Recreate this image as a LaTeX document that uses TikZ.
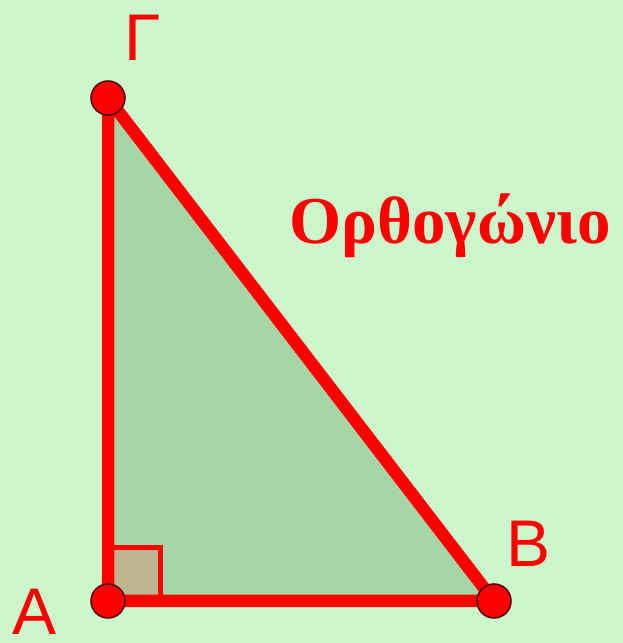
\documentclass[tikz,border=0pt]{standalone}
\usepackage{fontspec}
\setmainfont{Liberation Serif}
\newfontfamily\lsans{Liberation Sans}
\definecolor{bg}{HTML}{CCF7CC}
\definecolor{tri}{HTML}{A6D6A6}
\definecolor{sq}{HTML}{BDB58F}
\definecolor{redc}{HTML}{FF0000}
\begin{document}
\begin{tikzpicture}[x=1pt,y=1pt,
  vert/.style={circle,fill=redc,draw=black!70!red,line width=1.5pt,minimum size=34pt,inner sep=0pt},
  side/.style={draw=redc,line width=12.5pt,line join=round},
  lbl/.style={text=redc,font=\lsans\fontsize{66}{66}\selectfont,inner sep=0pt}]
\fill[bg] (0,0) rectangle (623,643);
\useasboundingbox (0,0) rectangle (623,643);
\coordinate (A) at (108,42);
\coordinate (B) at (494,42);
\coordinate (G) at (108,545);
\fill[tri] (A) -- (B) -- (G) -- cycle;
\fill[sq] (A) rectangle (160,95);
\draw[draw=redc,line width=5pt] (108,95) -| (160,42);
\draw[side] (A) -- (B) -- (G) -- cycle;
\node[vert] (a) at (A) {};
\node[vert] (b) at (B) {};
\node[vert] (g) at (G) {};
\node[lbl,anchor=base] (la) at (35,9) {A};
\node[lbl,anchor=base] (lb) at (529,76) {B};
\node[lbl,anchor=base] (lg) at (143,582) {Γ};
\node[text=redc,font=\bfseries\fontsize{67}{67}\selectfont,anchor=base,inner sep=0pt] (t) at (450,399) {Ορθογώνιο};
\end{tikzpicture}
\end{document}
